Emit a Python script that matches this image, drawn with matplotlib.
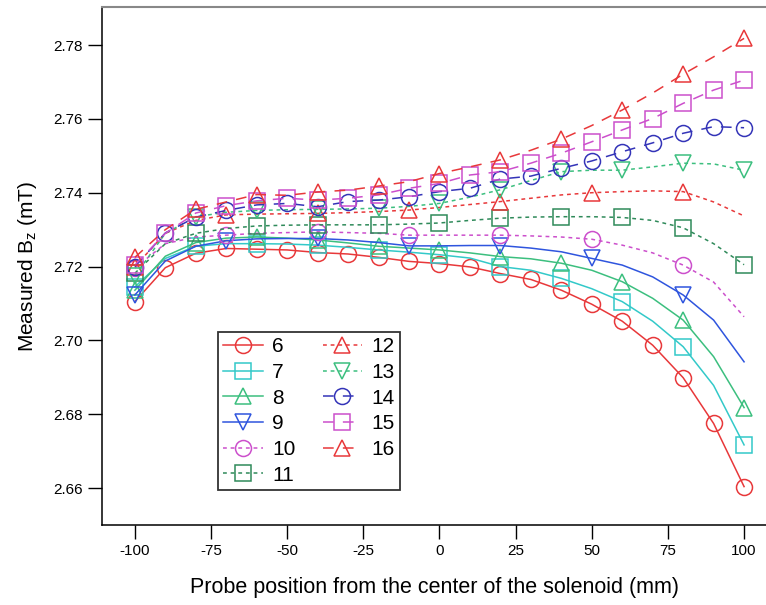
import matplotlib
matplotlib.use("Agg")
import matplotlib.pyplot as plt

plt.rcParams['font.family'] = ['Liberation Sans', 'DejaVu Sans']
plt.rcParams['axes.unicode_minus'] = False

# probe position (mm)
pos = [-100, -90, -80, -70, -60, -50, -40, -30, -20, -10, 0,
       10, 20, 30, 40, 50, 60, 70, 80, 90, 100]

# measured Bz (mT) for each run
b6 = [2.7105, 2.7197, 2.7236, 2.7249, 2.7247, 2.7245, 2.7238, 2.7234, 2.7225, 2.7214, 2.7208,
      2.7199, 2.7181, 2.7165, 2.7136, 2.7098, 2.7052, 2.6987, 2.6899, 2.6775, 2.6604]
b7 = [2.7145, 2.7222, 2.7255, 2.7262, 2.7262, 2.7261, 2.7258, 2.7252, 2.7245, 2.7239, 2.7232,
      2.7223, 2.7200, 2.7190, 2.7168, 2.7140, 2.7105, 2.7052, 2.6983, 2.6878, 2.6717]
b8 = [2.7136, 2.7228, 2.7265, 2.7277, 2.7280, 2.7277, 2.7272, 2.7264, 2.7255, 2.7250, 2.7245,
      2.7237, 2.7227, 2.7221, 2.7209, 2.7190, 2.7159, 2.7114, 2.7055, 2.6956, 2.6818]
b9 = [2.7123, 2.7215, 2.7255, 2.7270, 2.7275, 2.7276, 2.7276, 2.7272, 2.7265, 2.7256, 2.7256,
      2.7257, 2.7257, 2.7250, 2.7240, 2.7222, 2.7204, 2.7172, 2.7123, 2.7055, 2.6942]
b10 = [2.7196, 2.7262, 2.7280, 2.7285, 2.7290, 2.7292, 2.7294, 2.7292, 2.7290, 2.7285, 2.7285,
       2.7285, 2.7285, 2.7283, 2.7280, 2.7274, 2.7258, 2.7237, 2.7204, 2.7158, 2.7064]
b11 = [2.7182, 2.7262, 2.7290, 2.7303, 2.7310, 2.7312, 2.7313, 2.7313, 2.7313, 2.7315, 2.7318,
       2.7325, 2.7331, 2.7334, 2.7335, 2.7335, 2.7333, 2.7325, 2.7305, 2.7262, 2.7205]
b12 = [2.7200, 2.7290, 2.7325, 2.7340, 2.7342, 2.7343, 2.7344, 2.7346, 2.7349, 2.7353, 2.7360,
       2.7368, 2.7376, 2.7385, 2.7394, 2.7400, 2.7403, 2.7405, 2.7403, 2.7375, 2.7337]
b13 = [2.7175, 2.7290, 2.7335, 2.7347, 2.7352, 2.7354, 2.7355, 2.7356, 2.7358, 2.7363, 2.7371,
       2.7388, 2.7408, 2.7433, 2.7457, 2.7461, 2.7461, 2.7470, 2.7480, 2.7478, 2.7461]
b14 = [2.7200, 2.7291, 2.7334, 2.7352, 2.7367, 2.7371, 2.7362, 2.7376, 2.7380, 2.7389, 2.7403,
       2.7412, 2.7437, 2.7445, 2.7466, 2.7486, 2.7511, 2.7535, 2.7561, 2.7579, 2.7576]
b15 = [2.7204, 2.7290, 2.7345, 2.7365, 2.7378, 2.7385, 2.7380, 2.7385, 2.7394, 2.7412, 2.7425,
       2.7448, 2.7457, 2.7480, 2.7507, 2.7538, 2.7570, 2.7601, 2.7642, 2.7678, 2.7705]
b16 = [2.7225, 2.7300, 2.7355, 2.7375, 2.7395, 2.7393, 2.7402, 2.7407, 2.7418, 2.7430, 2.7452,
       2.7470, 2.7489, 2.7515, 2.7545, 2.7582, 2.7624, 2.7670, 2.7721, 2.7768, 2.7818]

labels = ['6', '7', '8', '9', '10', '11', '12', '13', '14', '15', '16']
series = [b6, b7, b8, b9, b10, b11, b12, b13, b14, b15, b16]

red = '#e8383a'
cyan = '#33c9c9'
green = '#3cbf7f'
blue = '#2f55de'
magenta = '#cc4fcc'
dkgreen = '#2f8a5a'
navy = '#3434b8'

dot = (0, (2.5, 2.5))
dash = (0, (7, 6))
# color, linestyle, marker, markevery, markersize
styles = [
    (red, '-', 'o', 1, 11.5),
    (cyan, '-', 's', 2, 11),
    (green, '-', '^', 2, 12),
    (blue, '-', 'v', 3, 12),
    (magenta, dot, 'o', 3, 11.5),
    (dkgreen, dot, 's', 2, 11),
    (red, dot, '^', 3, 12),
    (green, dot, 'v', 2, 12),
    (navy, dash, 'o', 1, 11.5),
    (magenta, dash, 's', 1, 11),
    (red, dash, '^', 2, 12),
]

fig = plt.figure(figsize=(7.66, 6.05), dpi=100)
ax = fig.add_axes([102 / 766, 80 / 605, 664 / 766, 518 / 605])

for vals, lab, (c, ls, mk, me, ms) in zip(series, labels, styles):
    ax.plot(pos, vals, color=c, linestyle=ls, linewidth=1.1, marker=mk,
            markevery=me, markersize=ms, markerfacecolor='none',
            markeredgecolor=c, markeredgewidth=1.1, label=lab)

ax.set_xlim(-110.8, 107.2)
ax.set_ylim(2.650, 2.7903)
ax.set_xticks([-100, -75, -50, -25, 0, 25, 50, 75, 100])
ax.set_yticks([2.66, 2.68, 2.70, 2.72, 2.74, 2.76, 2.78])
ax.set_yticklabels(['%.2f' % v for v in ax.get_yticks()])
ax.tick_params(direction='out', length=10, width=1, labelsize=11, pad=4)

ax.spines['right'].set_visible(False)
ax.spines['top'].set_color('#888888')
ax.spines['top'].set_linewidth(1.5)
ax.spines['left'].set_linewidth(1.1)
ax.spines['bottom'].set_linewidth(1.1)

ax.set_xlabel('Probe position from the center of the solenoid (mm)', fontsize=15.5, labelpad=13)
ax.set_ylabel('Measured B$_\\mathregular{z}$ (mT)', fontsize=15, labelpad=10)

leg = ax.legend(ncol=2, loc='lower left', bbox_to_anchor=(0.1747, 0.0676),
                borderaxespad=0, fontsize=15, frameon=True, fancybox=False,
                handlelength=1.9, handletextpad=0.45, columnspacing=1.3,
                labelspacing=0.32, borderpad=0.25)
leg.get_frame().set_edgecolor('black')
leg.get_frame().set_linewidth(1.3)

fig.savefig('out.png', dpi=100)
